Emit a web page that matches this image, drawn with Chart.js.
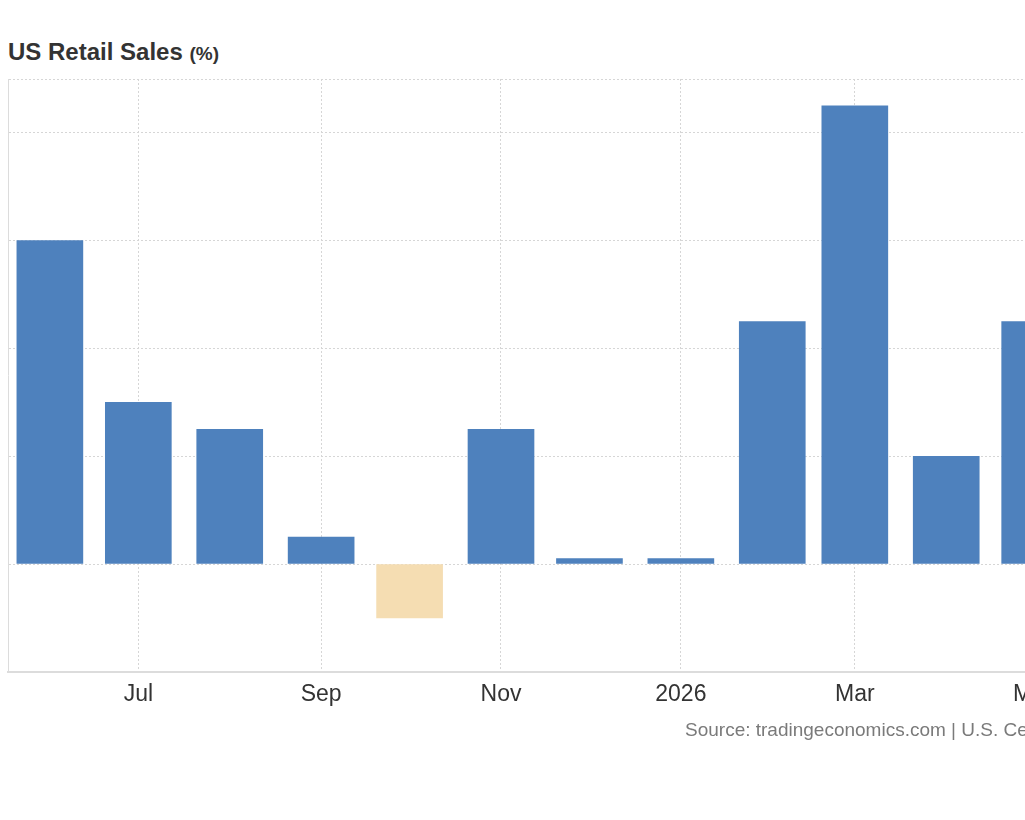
<!DOCTYPE html>
<html>
<head>
<meta charset="utf-8">
<script src="https://cdn.jsdelivr.net/npm/chart.js@4.4.1/dist/chart.umd.min.js"></script>
<style>
  html, body { margin: 0; padding: 0; background: #fff; overflow: hidden; width: 1025px; height: 820px; }
  #wrap { position: relative; width: 1160px; height: 820px; font-family: "Liberation Sans", Arial, Helvetica, sans-serif; }
  #title { position: absolute; left: 8px; top: 40px; line-height: 24px; font-size: 24px; font-weight: bold; color: #333; white-space: nowrap; }
  #title span { font-size: 19px; }
  #source { position: absolute; left: 685px; top: 720px; line-height: 19px; font-size: 19px; color: #7a7a7a; white-space: nowrap; }
  #cv { position: absolute; left: 0; top: 0; }
</style>
</head>
<body>
<div id="wrap">
  <div id="title">US Retail Sales <span>(%)</span></div>
  <canvas id="cv" width="1160" height="820"></canvas>
  <div id="source">Source: tradingeconomics.com | U.S. Census Bureau</div>
</div>
<script>
// ---- data ----
const months = ['2025-06','2025-07','2025-08','2025-09','2025-10','2025-11','2025-12','2026-01','2026-02','2026-03','2026-04','2026-05'];
const values = [0.6, 0.3, 0.25, 0.05, -0.1, 0.25, 0.01, 0.01, 0.45, 0.85, 0.2, 0.45];
const tickMonths = ['2025-07','2025-09','2025-11','2026-01','2026-03','2026-05'];
const tickLabels = ['Jul','Sep','Nov','2026','Mar','May'];

// days since 2025-07-01
function dayOf(ym) {
  const [y, m] = ym.split('-').map(Number);
  return (Date.UTC(y, m - 1, 1) - Date.UTC(2025, 6, 1)) / 86400000;
}
const points = months.map((m, i) => ({ x: dayOf(m), y: values[i] }));
const tickDays = tickMonths.map(dayOf);

const BLUE = '#4e81bd';
const PEACH = '#f5ddb2';
const GRID = '#d6d6d6';

new Chart(document.getElementById('cv'), {
  type: 'bar',
  data: {
    datasets: [{
      data: points,
      backgroundColor: ctx => (ctx.raw && ctx.raw.y < 0) ? PEACH : BLUE,
      borderWidth: 0,
      barThickness: 66
    }]
  },
  options: {
    responsive: false,
    animation: false,
    events: [],
    layout: { padding: { left: 8, right: 0, top: 79, bottom: 102.6 } },
    plugins: { legend: { display: false }, tooltip: { enabled: false } },
    scales: {
      x: {
        type: 'linear',
        offset: false,
        min: -44.2,
        max: 346.5,
        afterBuildTicks: scale => { scale.ticks = tickDays.map(v => ({ value: v })); },
        ticks: {
          autoSkip: false,
          maxRotation: 0,
          padding: 9,
          color: '#333',
          font: { family: '"Liberation Sans", Arial, sans-serif', size: 23 },
          callback: (v) => { const i = tickDays.indexOf(v); return i >= 0 ? tickLabels[i] : ''; }
        },
        grid: { color: GRID, drawTicks: false, lineWidth: 1, offset: false },
        border: { display: true, color: '#dcdcdc', width: 2, dash: [2, 2] }
      },
      y: {
        position: 'left',
        min: -0.2,
        max: 0.9,
        ticks: { display: false, stepSize: 0.2 },
        grid: { color: GRID, drawTicks: false, lineWidth: 1 },
        border: { display: true, color: '#dcdcdc', width: 1, dash: [2, 2] }
      }
    }
  }
});
</script>
</body>
</html>
